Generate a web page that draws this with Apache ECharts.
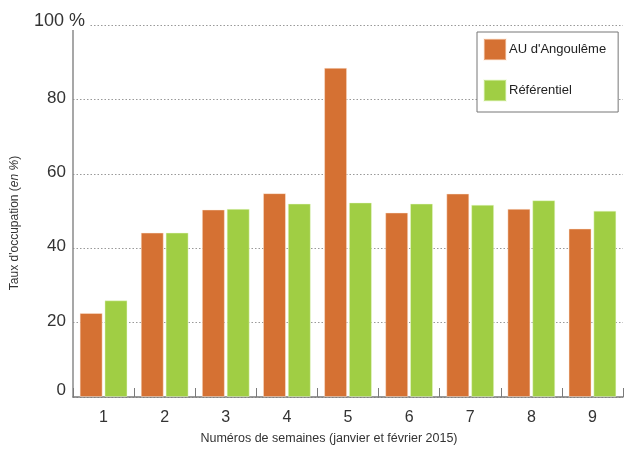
<!DOCTYPE html>
<html>
<head>
<meta charset="utf-8">
<script src="https://cdn.jsdelivr.net/npm/echarts@6/dist/echarts.min.js"></script>
<style>
  html, body { margin: 0; padding: 0; background: #fff; }
  #chart { width: 630px; height: 451px; }
</style>
</head>
<body>
<div id="chart"></div>
<script>
// Weekly occupancy rate, January–February 2015
const weeks = ['1', '2', '3', '4', '5', '6', '7', '8', '9'];
const angouleme = [22.6, 44.2, 50.4, 54.8, 88.5, 49.6, 54.7, 50.6, 45.3];
const referentiel = [26.0, 44.2, 50.6, 52.0, 52.3, 52.0, 51.7, 52.9, 50.1];
const yTicks = [0, 20, 40, 60, 80, 100];

const seriesNames = ["AU d'Angoulême", 'Référentiel'];
const colors = ['#D57133', '#A0CE44'];
const font = 'Liberation Sans, Arial, sans-serif';

const chart = echarts.init(document.getElementById('chart'), null, { renderer: 'canvas' });

const yBase = {
  type: 'value',
  min: yTicks[0],
  max: yTicks[yTicks.length - 1],
  interval: yTicks[1] - yTicks[0]
};

chart.setOption({
  animation: false,
  backgroundColor: '#fff',
  textStyle: { fontFamily: font },
  grid: { left: 73, right: 7, top: 25, bottom: 54, containLabel: false },
  legend: {
    orient: 'vertical',
    left: 477,
    top: 32,
    icon: 'rect',
    itemWidth: 22,
    itemHeight: 21,
    itemGap: 18,
    padding: [6, 12, 10, 6],
    borderColor: '#777',
    borderWidth: 1,
    backgroundColor: '#fff',
    textStyle: { fontSize: 13, color: '#222', padding: [0, 0, 4, -2] },
    data: seriesNames
  },
  xAxis: {
    type: 'category',
    data: weeks,
    name: 'Numéros de semaines (janvier et février 2015)',
    nameLocation: 'middle',
    nameGap: 35,
    nameTextStyle: { fontSize: 12.5, color: '#333', padding: [0, 38, 0, 0] },
    axisLine: { lineStyle: { color: '#7a7a7a', width: 1.5 } },
    axisTick: { show: true, inside: true, length: 9, lineStyle: { color: '#7a7a7a' } },
    axisLabel: { fontSize: 16, color: '#333', margin: 13 }
  },
  yAxis: [
    Object.assign({}, yBase, {
      name: "{n|Taux d'occupation (}{i|en %}{n|)}",
      nameLocation: 'middle',
      nameGap: 52,
      nameTextStyle: {
        padding: [0, 24, 0, 0],
        rich: {
          n: { fontSize: 12, color: '#333', fontFamily: font },
          i: { fontSize: 12, color: '#333', fontStyle: 'italic', fontFamily: font }
        }
      },
      axisLine: { show: true, lineStyle: { color: '#8a8a8a', width: 1.5 } },
      axisTick: { show: false },
      splitLine: { show: true, lineStyle: { color: '#999', type: [1.5, 2], width: 1 } },
      axisLabel: {
        fontSize: 17,
        color: '#333',
        margin: 7,
        formatter: function (v) {
          if (v === 100) return '';
          if (v === 0) return '{z|0}';
          return '{d|' + v + '}';
        },
        rich: {
          z: { fontSize: 17, color: '#333', padding: [0, 0, 14, 0] },
          d: { fontSize: 17, color: '#333', padding: [0, 0, 3, 0] }
        }
      }
    }),
    // top label with unit, overlapping the axis start
    Object.assign({}, yBase, {
      position: 'left',
      axisLine: { show: false },
      axisTick: { show: false },
      splitLine: { show: false },
      axisLabel: {
        margin: -16,
        fontSize: 18,
        color: '#333',
        verticalAlign: 'bottom',
        formatter: function (v) { return v === 100 ? '{t|100 %}' : ''; },
        rich: {
          t: { fontSize: 18, lineHeight: 10, color: '#333', backgroundColor: '#fff', padding: [2, 4, 0, 0] }
        }
      }
    })
  ],
  series: [
    {
      name: seriesNames[0],
      type: 'bar',
      data: angouleme,
      barWidth: 23,
      barGap: '8%',
      itemStyle: { color: colors[0], borderColor: 'rgba(255,235,220,0.45)', borderWidth: 1 }
    },
    {
      name: seriesNames[1],
      type: 'bar',
      data: referentiel,
      barWidth: 23,
      barGap: '8%',
      itemStyle: { color: colors[1], borderColor: 'rgba(235,250,210,0.45)', borderWidth: 1 }
    }
  ]
});
</script>
</body>
</html>
